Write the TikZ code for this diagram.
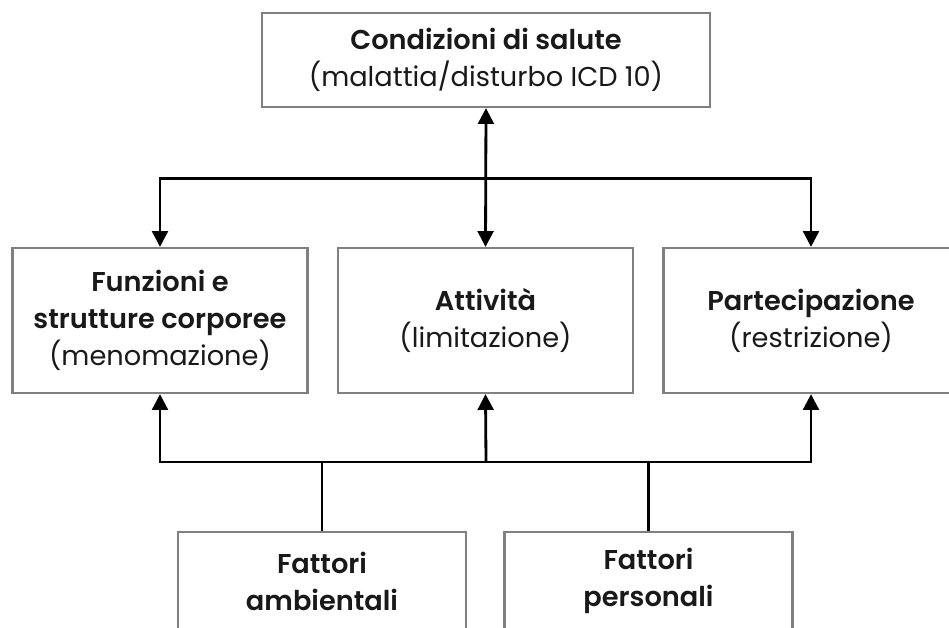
\documentclass[tikz,border=0pt]{standalone}
\usepackage{fontspec}
\setmainfont{Poppins}[BoldFont={Poppins SemiBold}]
\usetikzlibrary{arrows.meta}

\tikzset{
  box/.style={draw=black!50, line width=1.3pt, align=center, text=black!90,
    font=\fontsize{15.5}{21}\selectfont, inner sep=0pt},
  link/.style={line width=1.6pt, black},
  tip/.style={-{Triangle[width=9pt,length=9pt]}},
  tips/.style={{Triangle[width=9pt,length=9pt]}-{Triangle[width=9pt,length=9pt]}}
}

\begin{document}
\begin{tikzpicture}[x=0.02cm, y=-0.02cm]

  \useasboundingbox (0,0) rectangle (949,627);
  \clip (0,0) rectangle (949,627);

  % boxes
  \node[box, minimum width=8.96cm, minimum height=1.88cm] (cond) at (486,60)
    {\textbf{Condizioni di salute}\\(malattia/disturbo ICD 10)};

  \node[box, minimum width=5.9cm, minimum height=2.9cm] (funz) at (160,320.5)
    {\textbf{Funzioni e}\\\textbf{strutture corporee}\\(menomazione)};
  \node[box, minimum width=5.9cm, minimum height=2.9cm] (att) at (485.5,320.5)
    {\textbf{Attività}\\(limitazione)};
  \node[box, minimum width=5.9cm, minimum height=2.9cm] (part) at (811,320.5)
    {\textbf{Partecipazione}\\(restrizione)};

  \node[box, minimum width=5.76cm, minimum height=1.96cm] (amb) at (322,581)
    {\textbf{Fattori}\\\textbf{ambientali}};
  \node[box, minimum width=5.76cm, minimum height=1.96cm] (pers) at (648.5,581)
    {\textbf{Fattori}\\\textbf{personali}};

  \coordinate (bus) at (486,178.5);
  \coordinate (lbus) at (486,462);

  % connectors
  \draw[link, tips] (cond.south) -- (att.north);
  \draw[link, tips] (funz.north) |- (bus) -| (part.north);

  \draw[link, tips] (funz.south) |- (lbus) -| (part.south);
  \draw[link, tip] (lbus) -- (att.south);

  \draw[link] (amb.north) -- (amb.north |- lbus);
  \draw[link] (pers.north) -- (pers.north |- lbus);
\end{tikzpicture}
\end{document}
